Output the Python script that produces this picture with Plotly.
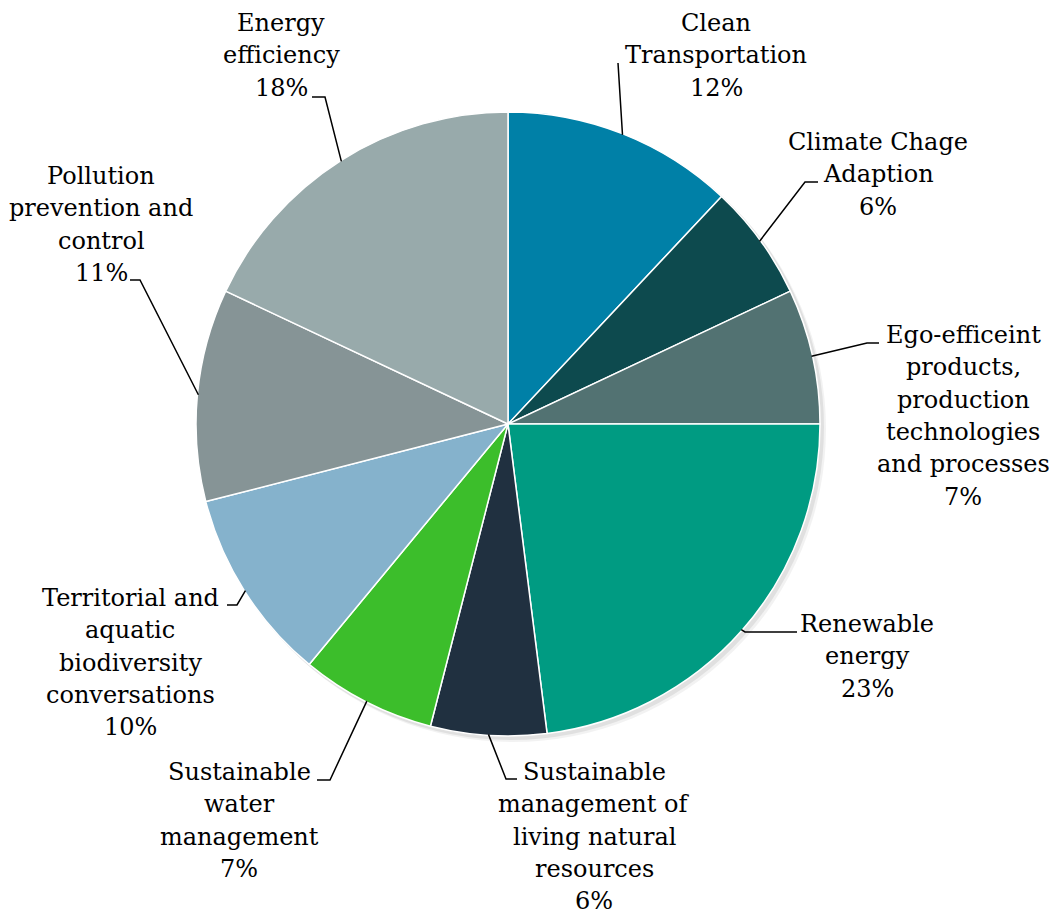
import math
import plotly.graph_objects as go

# ---- data ----
categories = [
    "Clean Transportation",
    "Climate Chage Adaption",
    "Ego-efficeint products, production technologies and processes",
    "Renewable energy",
    "Sustainable management of living natural resources",
    "Sustainable water management",
    "Territorial and aquatic biodiversity conversations",
    "Pollution prevention and control",
    "Energy efficiency",
]
shares = [12, 6, 7, 23, 6, 7, 10, 11, 18]
label_lines = [
    ["Clean", "Transportation"],
    ["Climate Chage", "Adaption"],
    ["Ego-efficeint", "products,", "production", "technologies", "and processes"],
    ["Renewable", "energy"],
    ["Sustainable", "management of", "living natural", "resources"],
    ["Sustainable", "water", "management"],
    ["Territorial and", "aquatic", "biodiversity", "conversations"],
    ["Pollution", "prevention and", "control"],
    ["Energy", "efficiency"],
]

# ---- styles / layout ----
colors = ["#0080A7", "#0D4A4E", "#527272", "#009B82", "#203040",
          "#3CBE2B", "#85B2CC", "#869496", "#98AAAB"]
W, H = 1057, 915
OFF = 8  # page body margin
FW, FH = W - OFF, H - OFF
CX, CY, R = 508, 424, 312
FONT = "DejaVu Serif"
FSIZE = 24
LINE_STEP = 32.3
# label block: center x, first line center y (screen pixels)
label_pos = [(716, 23), (878, 142), (963, 335), (867, 624), (594, 772),
             (239, 772), (130, 598), (101, 176), (281, 23)]
# leader line: elbow point and end point (screen pixels)
leader_pts = [((618, 63), (618, 63)), ((805, 182), (818, 182)),
              ((867, 343), (879, 343)), ((745, 632), (797, 632)),
              ((506, 779), (517, 779)), ((330, 780), (317, 780)),
              ((237, 605), (227, 605)), ((140, 280), (130, 280)),
              ((325, 97), (312, 97))]


def px(x):
    return (x - OFF) / FW


def py(y):
    return 1 - (y - OFF) / FH


fig = go.Figure()

# soft shadow
for off, alpha in [(5, 0.05), (3, 0.07)]:
    fig.add_trace(go.Pie(
        values=[sum(shares)], marker=dict(colors=[f"rgba(0,0,0,{alpha})"]),
        textinfo="none", hoverinfo="skip", showlegend=False, sort=False,
        domain=dict(x=[px(CX - R + off - 1), px(CX + R + off + 1)],
                    y=[py(CY + R + off + 1), py(CY - R + off - 1)]),
    ))

fig.add_trace(go.Pie(
    labels=categories, values=shares, sort=False, direction="clockwise",
    rotation=0, textinfo="none", showlegend=False,
    marker=dict(colors=colors, line=dict(color="white", width=1.5)),
    domain=dict(x=[px(CX - R), px(CX + R)], y=[py(CY + R), py(CY - R)]),
))

total = sum(shares)
annotations = []
shapes = []
cum = 0
for i, v in enumerate(shares):
    mid = (cum + v / 2) / total * 2 * math.pi
    cum += v
    ax = CX + (R - 1) * math.sin(mid)
    ay = CY - (R - 1) * math.cos(mid)
    (ex, ey), (tx, ty) = leader_pts[i]
    shapes.append(dict(type="path", xref="paper", yref="paper",
                       path=f"M {px(ax)} {py(ay)} L {px(ex)} {py(ey)} L {px(tx)} {py(ty)}",
                       line=dict(color="black", width=1.5)))
    lx, ly = label_pos[i]
    lines = label_lines[i] + [f"{v}%"]
    for j, t in enumerate(lines):
        annotations.append(dict(
            x=px(lx), y=py(ly + j * LINE_STEP), xref="paper", yref="paper",
            text=t, showarrow=False, xanchor="center", yanchor="middle",
            font=dict(family=FONT, size=FSIZE, color="black")))

fig.update_layout(
    width=FW, height=FH, margin=dict(l=0, r=0, t=0, b=0),
    paper_bgcolor="white", plot_bgcolor="white",
    annotations=annotations, shapes=shapes,
)

fig.write_html("out.html")
